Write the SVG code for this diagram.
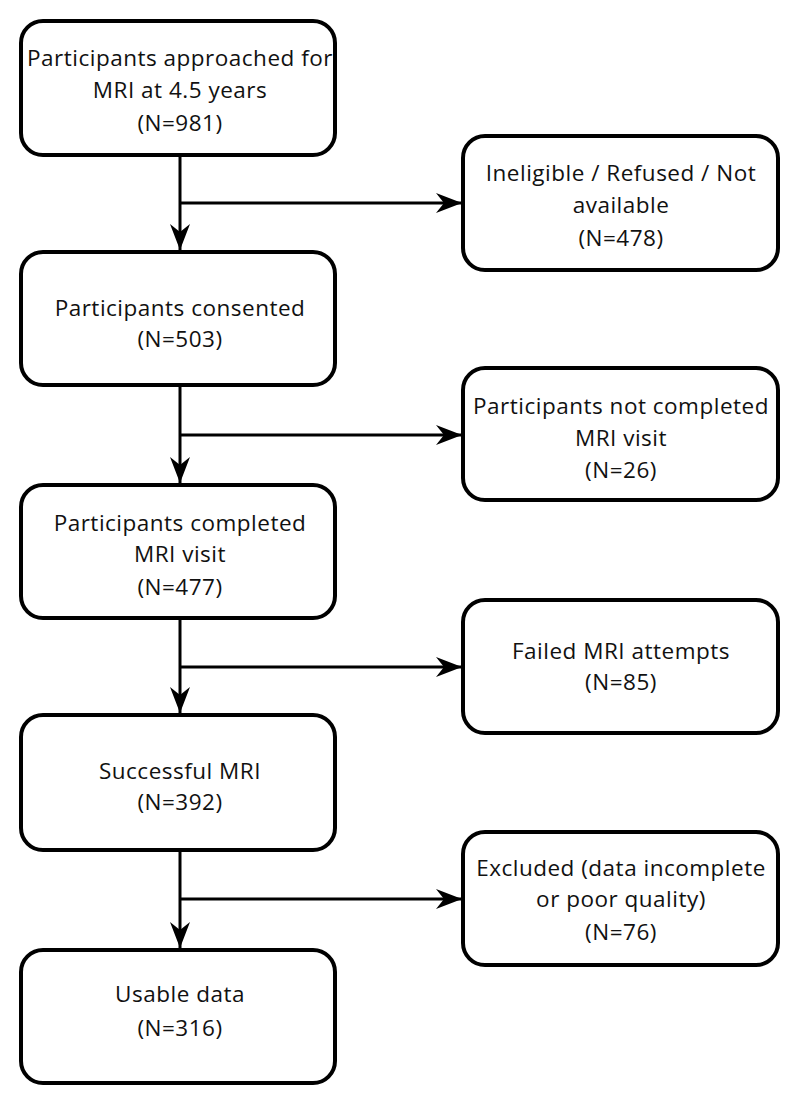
<svg xmlns="http://www.w3.org/2000/svg" width="800" height="1103" viewBox="0 0 800 1103">
<style>
.box{fill:#fff;stroke:#000;stroke-width:4}
.t{font-family:"Open Sans","Noto Sans",sans-serif;font-size:22.5px;letter-spacing:0.5px;fill:#111;text-anchor:middle}
.c{fill:none;stroke:#000;stroke-width:3}
</style>
<defs>
<marker id="ah" markerWidth="26" markerHeight="20" viewBox="0 0 26 20" refX="26" refY="10" orient="auto" markerUnits="userSpaceOnUse">
<path d="M0,0 L26,10 L0,20 L8,10 Z" fill="#000"/>
</marker>
</defs>
<rect width="800" height="1103" fill="#fff"/>
<g id="connectors">
<path class="c" d="M180,155 V250" marker-end="url(#ah)"/>
<path class="c" d="M180,203 H462" marker-end="url(#ah)"/>
<path class="c" d="M180,385 V483" marker-end="url(#ah)"/>
<path class="c" d="M180,435 H462" marker-end="url(#ah)"/>
<path class="c" d="M180,618 V713" marker-end="url(#ah)"/>
<path class="c" d="M180,667 H462" marker-end="url(#ah)"/>
<path class="c" d="M180,850 V948" marker-end="url(#ah)"/>
<path class="c" d="M180,899 H462" marker-end="url(#ah)"/>
</g>
<g id="n1"><rect class="box" x="21" y="21" width="314" height="134" rx="22"/>
<text class="t" x="180" y="66">Participants approached for</text><text class="t" x="180" y="98">MRI at 4.5 years</text><text class="t" x="180" y="131">(N=981)</text></g>
<g id="n2"><rect class="box" x="21" y="252" width="314" height="133" rx="22"/>
<text class="t" x="180" y="316">Participants consented</text><text class="t" x="180" y="347">(N=503)</text></g>
<g id="n3"><rect class="box" x="21" y="485" width="314" height="133" rx="22"/>
<text class="t" x="180" y="531">Participants completed</text><text class="t" x="180" y="562">MRI visit</text><text class="t" x="180" y="595">(N=477)</text></g>
<g id="n4"><rect class="box" x="21" y="715" width="314" height="135" rx="22"/>
<text class="t" x="180" y="779">Successful MRI</text><text class="t" x="180" y="810">(N=392)</text></g>
<g id="n5"><rect class="box" x="21" y="950" width="314" height="133" rx="22"/>
<text class="t" x="180" y="1002">Usable data</text><text class="t" x="180" y="1036">(N=316)</text></g>
<g id="r1"><rect class="box" x="463" y="136" width="315" height="134" rx="22"/>
<text class="t" x="621" y="181">Ineligible / Refused / Not</text><text class="t" x="621" y="213">available</text><text class="t" x="621" y="246">(N=478)</text></g>
<g id="r2"><rect class="box" x="463" y="368" width="315" height="132" rx="22"/>
<text class="t" x="621" y="414">Participants not completed</text><text class="t" x="621" y="446">MRI visit</text><text class="t" x="621" y="478">(N=26)</text></g>
<g id="r3"><rect class="box" x="463" y="600" width="315" height="133" rx="22"/>
<text class="t" x="621" y="659">Failed MRI attempts</text><text class="t" x="621" y="690">(N=85)</text></g>
<g id="r4"><rect class="box" x="463" y="832" width="315" height="133" rx="22"/>
<text class="t" x="621" y="876">Excluded (data incomplete</text><text class="t" x="621" y="907">or poor quality)</text><text class="t" x="621" y="940">(N=76)</text></g>
</svg>
